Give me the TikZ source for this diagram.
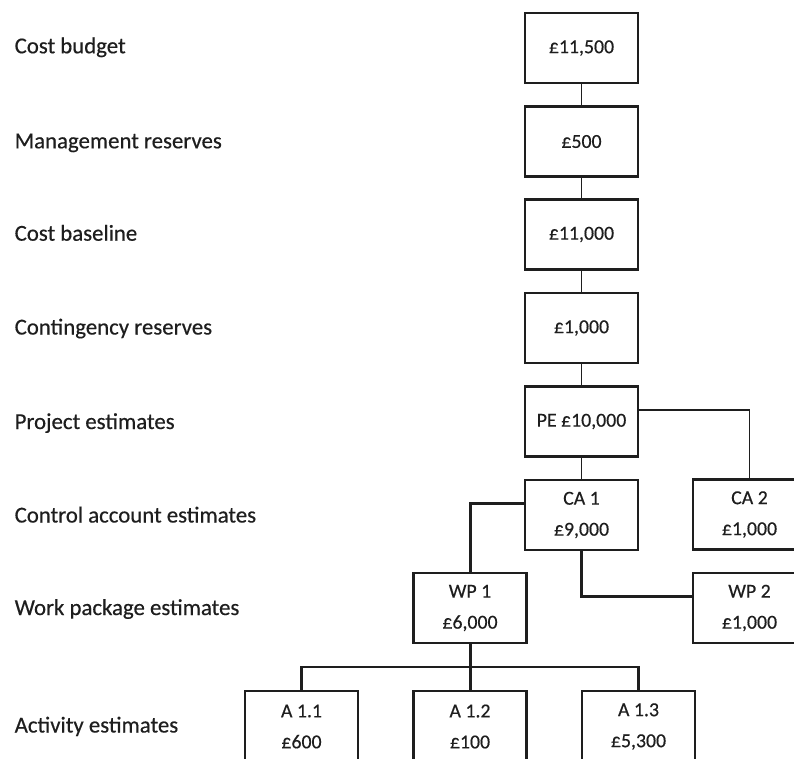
\documentclass[tikz,border=0pt]{standalone}
\usepackage{fontspec}
\setmainfont{Carlito}[FakeBold=0.4]
\definecolor{ink}{RGB}{30,30,30}
\begin{document}
\begin{tikzpicture}[x=1pt,y=-1pt,
  every node/.style={text=ink},
  costbox/.style={draw=ink, rectangle, minimum width=113pt, minimum height=70pt,
    inner sep=0pt, outer sep=0pt, align=center,
    font=\fontsize{19.8}{31}\selectfont},
  leveltext/.style={anchor=base west, inner sep=0pt,
    font=\fontsize{22.8}{27}\selectfont},
  thinlink/.style={draw=ink, line width=1.4pt},
  boldlink/.style={draw=ink, line width=3pt},
  buslink/.style={draw=ink, line width=2.2pt}]

\path[fill=white, use as bounding box] (0,0) rectangle (794,758);
\clip (0,0) rectangle (794,758);

% level captions
\node[leveltext] (l1) at (14.5,53.3)  {Cost budget};
\node[leveltext] (l2) at (14.5,148.3) {Management reserves};
\node[leveltext] (l3) at (14.5,240.7) {Cost baseline};
\node[leveltext] (l4) at (14.5,334.5) {Contingency reserves};
\node[leveltext] (l5) at (14.5,429.0) {Project estimates};
\node[leveltext] (l6) at (14.5,522.5) {Control account estimates};
\node[leveltext] (l7) at (14.5,615.0) {Work package estimates};
\node[leveltext] (l8) at (14.5,732.5) {Activity estimates};

% budget column
\node[costbox, line width=1.8pt] (b1) at (581.5,48)    {£11,500};
\node[costbox, line width=2.3pt] (b2) at (581.5,141.5) {£500};
\node[costbox, line width=2.8pt] (b3) at (581.5,234.5) {£11,000};
\node[costbox, line width=2.7pt] (b4) at (581.5,328)   {£1,000};
\node[costbox, line width=2.5pt] (pe) at (581.5,421.5) {PE £10,000};

% control accounts
\node[costbox, line width=2.5pt] (ca1) at (581.5,515) {CA 1\\£9,000};
\node[costbox, line width=2.6pt] (ca2) at (749.5,514.5) {CA 2\\£1,000};

% work packages
\node[costbox, line width=2.6pt] (wp1) at (470,608)   {WP 1\\£6,000};
\node[costbox, line width=2.6pt] (wp2) at (749.5,608) {WP 2\\£1,000};

% activities
\node[costbox, line width=1.9pt, minimum height=71pt] (a11) at (301.5,726.5) {A 1.1\\£600};
\node[costbox, line width=2.4pt, minimum height=71pt] (a12) at (470,726.5)   {A 1.2\\£100};
\node[costbox, line width=2.2pt, minimum height=71pt] (a13) at (638.5,726.5) {A 1.3\\£5,300};

% connectors
\draw[thinlink] (b1.south) -- (b2.north);
\draw[thinlink] (b2.south) -- (b3.north);
\draw[thinlink] (b3.south) -- (b4.north);
\draw[thinlink] (b4.south) -- (pe.north);
\draw[thinlink] (pe.south) -- (ca1.north);
\draw[thinlink] ([yshift=11.5pt]pe.east) -| (ca2.north);
\draw[boldlink] ([yshift=12pt]ca1.west) -| (wp1.north);
\draw[boldlink] (ca1.south) |- ([yshift=12pt]wp2.west);

\coordinate (bus) at (470,667);
\draw[boldlink] (wp1.south) -- (a12.north);
\draw[buslink] (a11.north) |- (bus) -| (a13.north);
\end{tikzpicture}
\end{document}
